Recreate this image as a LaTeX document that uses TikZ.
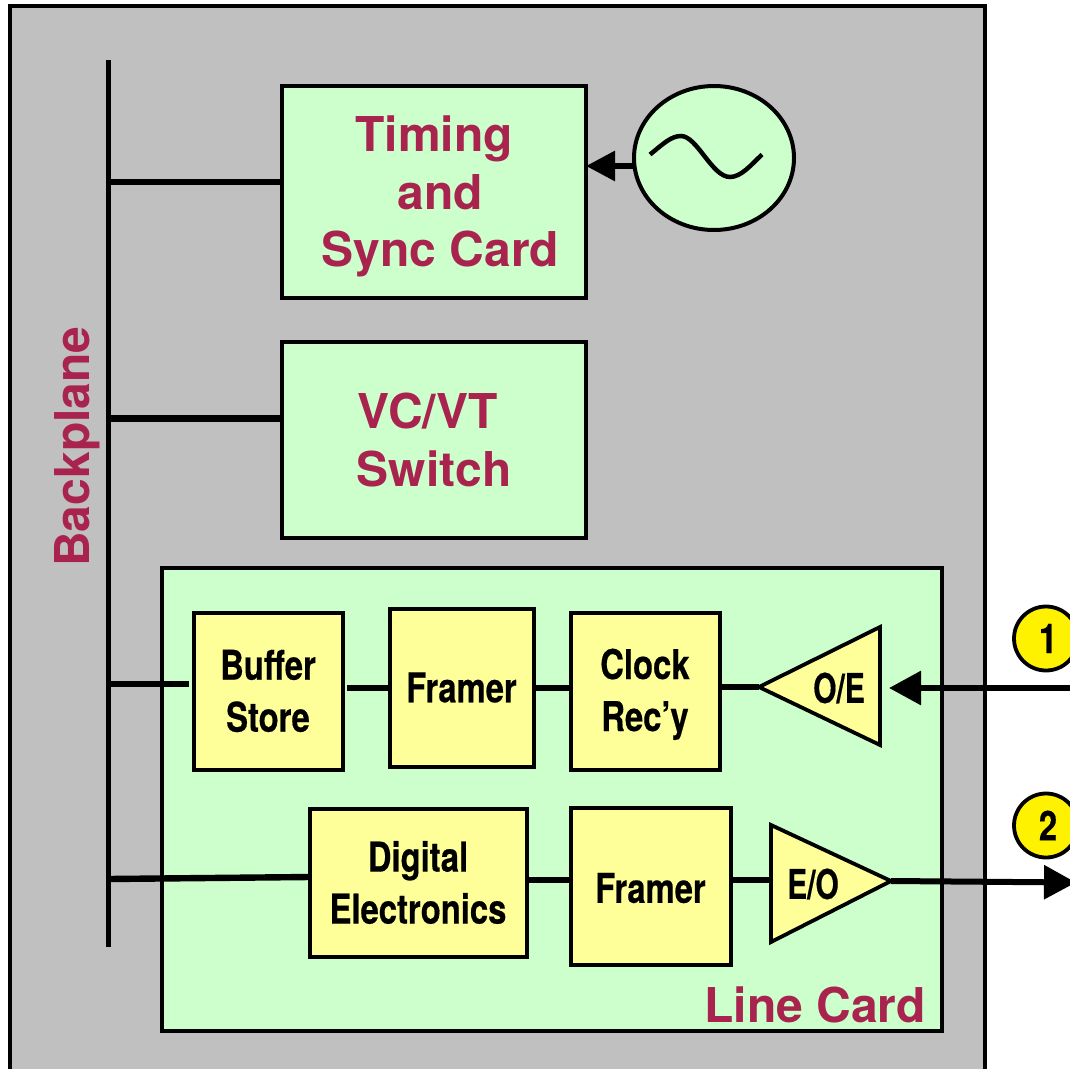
\documentclass[tikz,border=0pt]{standalone}
\usepackage{fontspec}
\setmainfont{TeX Gyre Heros}
\newfontfamily\narrowbold{TeX Gyre Heros Bold}[FakeStretch=0.8,FakeBold=0.4]
\newfontfamily\narrowerbold{TeX Gyre Heros Bold}[FakeStretch=0.73,FakeBold=0.4]
\usetikzlibrary{arrows.meta,calc,shapes.geometric}
\definecolor{framegray}{HTML}{C0C0C0}
\definecolor{cardgreen}{HTML}{CCFFCC}
\definecolor{partyellow}{HTML}{FFFF99}
\definecolor{labelred}{HTML}{A9234F}
\tikzset{
  x=1pt,y=-1pt,
  greenbox/.style={draw=black,fill=cardgreen,line width=4pt,inner sep=0pt,outer sep=0pt,align=center,text=labelred,font=\fontsize{48}{57.5}\selectfont\bfseries},
  yellowbox/.style={draw=black,fill=partyellow,line width=4pt,inner sep=0pt,outer sep=0pt,align=center,font=\fontsize{41}{52}\selectfont\narrowbold},
  redlabel/.style={text=labelred,inner sep=0pt,font=\fontsize{48}{57}\selectfont\bfseries},
  triangletext/.style={inner sep=0pt,font=\fontsize{41}{51}\selectfont\narrowerbold},
  amp/.style={draw=black,fill=partyellow,line width=3.8pt,line join=miter},
  wire/.style={draw=black,line width=6.4pt},
  thinwire/.style={draw=black,line width=5.5pt},
  arrowin/.style={draw=black,line width=6pt,-{Triangle[length=32pt,width=33pt]}},
  marker/.style={draw=black,fill=yellow,circle,line width=3.8pt,minimum size=64pt,inner sep=0pt,font=\fontsize{41}{51}\selectfont\narrowbold},
}
\begin{document}
\begin{tikzpicture}
\useasboundingbox (0,0) rectangle (1070,1068);
\clip (0,0) rectangle (1070,1068);
% chassis
\draw[black,fill=framegray,line width=4pt] (9.5,5.5) rectangle (985,1090);
% backplane
\coordinate (bustop) at (108.5,60);
\coordinate (busbot) at (108.5,947);
\draw[black,line width=5.5pt] (bustop) -- (busbot);
\node[redlabel,rotate=90] (backlabel) at (77,446.5) {Backplane};
% upper cards
\node[greenbox,minimum width=304pt,minimum height=212pt] (timing) at (434,192)
  {\rule{0pt}{45pt}Timing\\\hspace*{13pt}and\\\hspace*{13pt}Sync Card};
\node[greenbox,minimum width=304pt,minimum height=196pt] (switch) at (434,440)
  {VC/VT\hspace*{12pt}\\Switch};
\coordinate (bustiming) at (108.5,182);
\coordinate (busswitch) at (108.5,418.5);
\draw[wire] (bustiming) -- (bustiming -| timing.west);
\draw[wire] (busswitch) -- (busswitch -| switch.west);
% oscillator
\node[draw=black,fill=cardgreen,ellipse,line width=4pt,minimum width=160pt,minimum height=144pt,inner sep=0pt,outer sep=0pt] (osc) at (714,158) {};
\coordinate (oscout) at (634,166);
\draw[black,line width=6pt,-{Triangle[length=29pt,width=29pt]}] (oscout) -- (oscout -| timing.east);
\draw[black,line width=4.5pt] (650,154.5) .. controls (663,144) and (671,136) .. (681,136)
  .. controls (697,136) and (712,177) .. (730,177)
  .. controls (741,177) and (751,165) .. (762,154.5);
% line card
\node[draw=black,fill=cardgreen,line width=4pt,inner sep=0pt,outer sep=0pt,minimum width=780pt,minimum height=463pt] (linecard) at (552,799.5) {};
\node[redlabel,anchor=base east] (linelabel) at (926,1022) {Line Card};
% receive row
\node[yellowbox,minimum width=149pt,minimum height=157pt] (buffer) at (268,691) {Buffer\\Store};
\node[yellowbox,minimum width=144pt,minimum height=158pt] (framerA) at (461.5,687.5) {Framer};
\node[yellowbox,minimum width=149pt,minimum height=157pt] (clock) at (645,691) {\rule{0pt}{37pt}Clock\\Rec’y};
\coordinate (oetip) at (759,687);
\coordinate (oetop) at (880,627);
\coordinate (oebot) at (880,745);
\draw[amp] (oetip) -- (oetop) -- (oebot) -- cycle;
\node[triangletext] (oelabel) at (839,688) {O/E};
\coordinate (busbuffer) at (108.5,684);
\coordinate (bufferstub) at (189,684);
\coordinate (bufferout) at (347,688);
\draw[wire] (busbuffer) -- (bufferstub);
\draw[wire] (bufferout) -- (bufferout -| framerA.west);
\draw[wire] (framerA.east |- 0,688) -- (clock.west |- 0,688);
\draw[wire] (clock.east |- 0,687) -- (oetip);
\coordinate (inport) at (1075,688);
\coordinate (intip) at (889,688);
\draw[arrowin] (inport) -- (intip);
\node[marker] (one) at (1046,638.5) {\hspace*{4pt}1};
% transmit row
\node[yellowbox,minimum width=217pt,minimum height=148pt] (digital) at (418,882.5) {Digital\\Electronics};
\node[yellowbox,minimum width=160pt,minimum height=157pt] (framerB) at (650.5,886) {\rule{0pt}{34pt}Framer};
\coordinate (eotop) at (771,825);
\coordinate (eobot) at (771,942);
\coordinate (eotip) at (891,881);
\draw[amp] (eotip) -- (eotop) -- (eobot) -- cycle;
\node[triangletext] (eolabel) at (813,884) {E/O};
\coordinate (busdigital) at (108.5,879);
\coordinate (digitalin) at (309,877);
\draw[wire] (busdigital) -- (digitalin);
\draw[thinwire] (digital.east |- 0,880) -- (framerB.west |- 0,880);
\draw[thinwire] (framerB.east |- 0,880) -- (eotop |- 0,880);
\coordinate (outport) at (1076,882.5);
\draw[arrowin] (eotip) -- (outport);
\node[marker] (two) at (1046,825.5) {\hspace*{4pt}2};
\end{tikzpicture}
\end{document}
